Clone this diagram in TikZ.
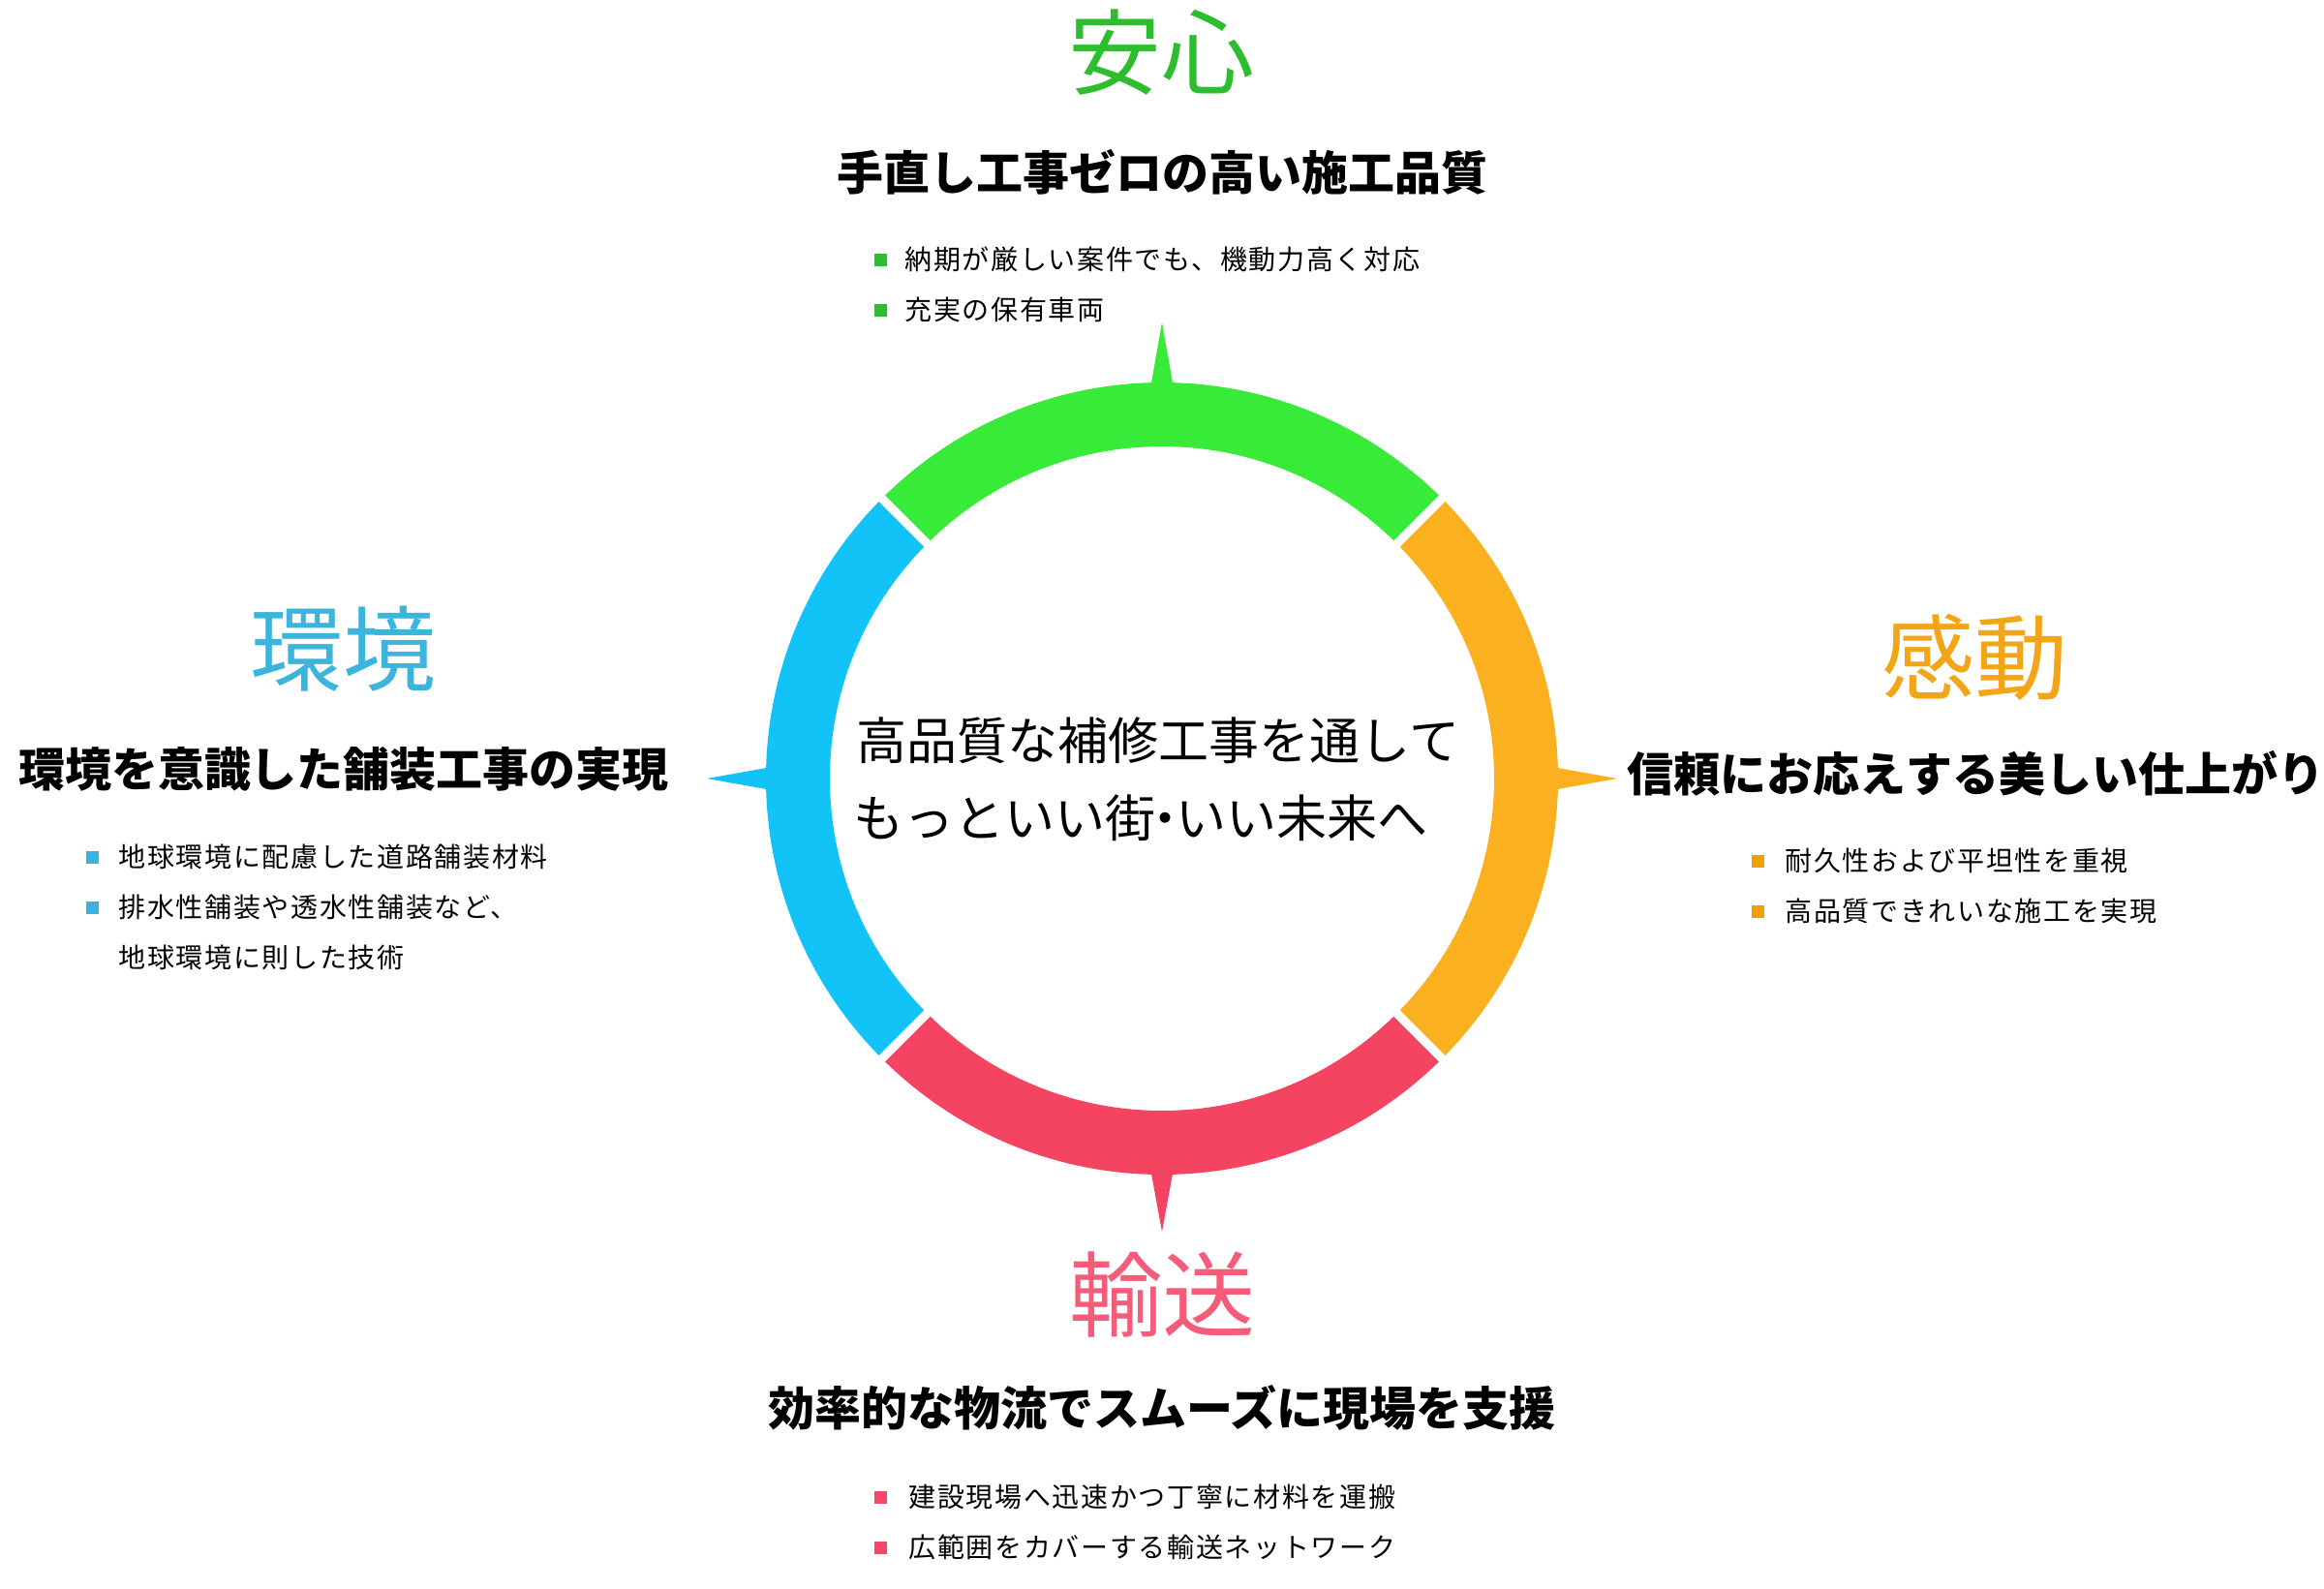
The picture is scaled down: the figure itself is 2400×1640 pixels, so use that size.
\documentclass[tikz,border=0pt]{standalone}
\usepackage{fontspec}
\setmainfont{Noto Sans CJK JP}
\definecolor{ringG}{HTML}{39EB39}
\definecolor{ringO}{HTML}{FBB11F}
\definecolor{ringB}{HTML}{12C3F7}
\definecolor{ringR}{HTML}{F44462}
\definecolor{tG}{HTML}{2EBD2E}
\definecolor{tO}{HTML}{F2A516}
\definecolor{tB}{HTML}{3BB5DB}
\definecolor{tR}{HTML}{F45C7A}
\definecolor{sqG}{HTML}{2DBE2D}
\definecolor{sqO}{HTML}{F0A000}
\definecolor{sqB}{HTML}{3AB4DE}
\definecolor{sqR}{HTML}{F2496A}
\tikzset{
  ttl/.style={font=\fontsize{48pt}{48pt}\selectfont, inner sep=0pt},
  subt/.style={font=\fontsize{24pt}{24pt}\selectfont\bfseries, inner sep=0pt},
  btxt/.style={font=\fontsize{14pt}{14pt}\selectfont\addfontfeatures{LetterSpace=6}, anchor=west, inner sep=0pt},
  bsq/.style={rectangle, minimum size=6.5pt, inner sep=0pt, fill=#1},
  gap/.style={white, line width=4.5pt},
}
\begin{document}
\begin{tikzpicture}[x=0.5pt,y=-0.5pt]
\useasboundingbox (0,0) rectangle (2400,1640);
% ring
\begin{scope}[shift={(1200,804)}, yscale=-1]
\def\Ro{409}\def\Ri{343}
\fill[ringG] (45:\Ri) -- (45:\Ro) arc[start angle=45,end angle=135,radius=\Ro] -- (135:\Ri) arc[start angle=135,end angle=45,radius=\Ri] -- cycle;
\fill[ringB] (135:\Ri) -- (135:\Ro) arc[start angle=135,end angle=225,radius=\Ro] -- (225:\Ri) arc[start angle=225,end angle=135,radius=\Ri] -- cycle;
\fill[ringR] (225:\Ri) -- (225:\Ro) arc[start angle=225,end angle=315,radius=\Ro] -- (315:\Ri) arc[start angle=315,end angle=225,radius=\Ri] -- cycle;
\fill[ringO] (-45:\Ri) -- (-45:\Ro) arc[start angle=-45,end angle=45,radius=\Ro] -- (45:\Ri) arc[start angle=45,end angle=-45,radius=\Ri] -- cycle;
\fill[ringG] (88.2:400) -- (90:471) -- (91.8:400) -- cycle;
\fill[ringB] (178.2:400) -- (180:470) -- (181.8:400) -- cycle;
\fill[ringR] (268.2:400) -- (270:468) -- (271.8:400) -- cycle;
\fill[ringO] (-1.8:400) -- (0:470) -- (1.8:400) -- cycle;
\foreach \a in {45,135,225,315} \draw[gap] (\a:330) -- (\a:420);
\end{scope}
% centre
\node[font=\fontsize{26pt}{40pt}\selectfont, align=center, inner sep=0pt] (centre) at (1196,805) {高品質な補修工事を通して\\もっといい街\kern-0.3em・\kern-0.3emいい未来へ\hspace*{0.7em}};
% top
\node[ttl, text=tG] (anshin) at (1199,54) {安心};
\node[subt] (anshinS) at (1200,178) {手直し工事ゼロの高い施工品質};
\node[bsq=sqG] (aq1) at (909,268) {};
\node[bsq=sqG] (aq2) at (909,320) {};
\node[btxt] (at1) at (934,268) {納期が厳しい案件でも、機動力高く対応};
\node[btxt] (at2) at (934,320) {充実の保有車両};
% right
\node[ttl, text=tO] (kando) at (2039,679) {感動};
\node[subt] (kandoS) at (2040,799) {信頼にお応えする美しい仕上がり};
\node[bsq=sqO] (kq1) at (1815,889) {};
\node[bsq=sqO] (kq2) at (1815,941) {};
\node[btxt] (kt1) at (1843,889) {耐久性および平坦性を重視};
\node[btxt] (kt2) at (1843,941) {高品質できれいな施工を実現};
% left
\node[ttl, text=tB] (kankyo) at (354,670) {環境};
\node[subt] (kankyoS) at (355,794) {環境を意識した舗装工事の実現};
\node[bsq=sqB] (eq1) at (95,885) {};
\node[bsq=sqB] (eq2) at (95,937) {};
\node[btxt] (et1) at (122,885) {地球環境に配慮した道路舗装材料};
\node[btxt] (et2) at (122,937) {排水性舗装や透水性舗装など、};
\node[btxt] (et3) at (122,989) {地球環境に則した技術};
% bottom
\node[ttl, text=tR] (yuso) at (1200,1337) {輸送};
\node[subt] (yusoS) at (1200,1454) {効率的な物流でスムーズに現場を支援};
\node[bsq=sqR] (yq1) at (909,1546) {};
\node[bsq=sqR] (yq2) at (909,1598) {};
\node[btxt] (yt1) at (938,1546) {建設現場へ迅速かつ丁寧に材料を運搬};
\node[btxt] (yt2) at (938,1598) {広範囲をカバーする輸送ネットワーク};
\end{tikzpicture}
\end{document}
